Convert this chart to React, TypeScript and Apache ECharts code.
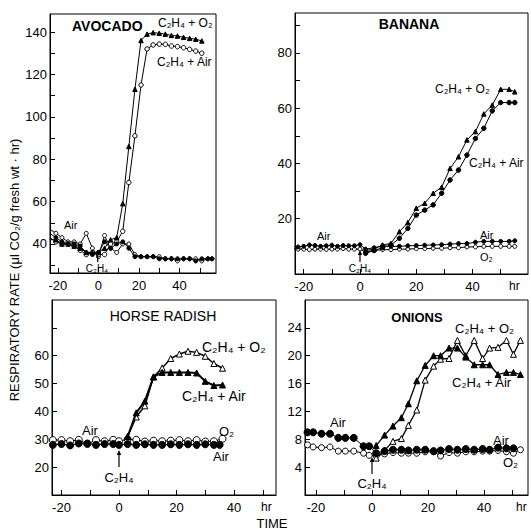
import React, { useEffect, useRef } from "react";
import * as echarts from "echarts";

type Pt = [number, number];

// ---------------- DATA ----------------
// Avocado (hr, µl CO2/g·hr)
const avocadoC2H4O2: Pt[] = [[-24,42],[-21,42],[-18,40],[-15,40],[-12,39],[-9,38],[-6,36],[-3,36],[0,36],[3,38],[6,42],[9,43],[12,59],[15,86],[18,113],[21,136],[24,139],[27,139.7],[30,139.4],[33,139],[36,138.4],[39,138.1],[42,137.5],[45,137],[48,136.6],[51,135.8]];
const avocadoC2H4Air: Pt[] = [[-24,43],[-21,41],[-18,40],[-15,40],[-12,39],[-9,37],[-6,35],[-3,36],[0,35],[3,35],[6,40],[9,41],[12,46],[15,69],[18,91],[21,115],[24,132],[27,133.9],[30,134.3],[33,134.2],[36,133.4],[39,133.1],[42,132.6],[45,131.8],[48,131],[51,130]];
const avocadoAir: Pt[] = [[-24,45],[-21,43],[-18,41],[-15,40],[-12,40],[-9,39],[-6,36],[-3,35],[0,36],[3,41],[6,38],[9,40],[12,41],[15,38],[18,34],[21,34],[24,34],[27,34],[30,33],[33,33],[36,33],[39,33],[42,33],[45,33],[48,32],[51,33],[54,33],[56,33]];
const avocadoO2: Pt[] = [[-24,47],[-21,45],[-18,43],[-15,41],[-12,41],[-9,40],[-6,45],[-3,38],[0,34],[3,44],[6,38],[9,36],[12,40],[15,40],[18,35],[21,34],[24,34],[27,34],[30,34],[33,33],[36,33],[39,32],[42,33],[45,33],[48,33],[51,32],[54,33],[56,33]];

// Banana
const bananaC2H4O2: Pt[] = [[2,8.5],[5,9],[8,10.5],[11,11.1],[14,15.3],[17,18.6],[20,23.8],[23,25.6],[26,29.2],[29,31.4],[32,38.2],[35,42.4],[38,48.5],[41,51.5],[44,57.9],[47,61.1],[50,66.8],[53,66.8],[55,65.9]];
const bananaC2H4Air: Pt[] = [[2,7.5],[5,8.5],[8,9.5],[11,10.5],[14,12.9],[17,16.5],[20,21.3],[23,23.1],[26,25],[29,29.2],[32,34],[35,37.6],[38,43],[41,49],[44,52.7],[47,59],[50,62],[53,62],[55,62]];
const bananaAir: Pt[] = [[-24,10],[-22,9.8],[-20,10],[-18,10.5],[-16,10.3],[-14,10],[-12,10.2],[-10,10.4],[-8,10],[-6,10.3],[-4,10.2],[-2,10.2],[0,10.6],[2,9],[5,9.5],[8,10.2],[11,10],[14,10],[17,10.2],[20,10.3],[23,10.4],[26,10.5],[29,10.6],[32,10.8],[35,11],[38,11],[41,11.5],[44,11.8],[47,11.8],[50,11.8],[53,11.8],[55,12]];
const bananaO2: Pt[] = [[-24,9.2],[-22,9],[-20,9],[-18,8.8],[-16,9],[-14,9],[-12,8.9],[-10,9],[-8,9],[-6,9.2],[-4,9],[-2,9],[0,9],[2,8],[5,8.5],[8,8.8],[11,8.8],[14,9],[17,9],[20,9.2],[23,9.2],[26,9.3],[29,9.3],[32,9.5],[35,9.5],[38,9.8],[41,9.8],[44,10],[47,10],[50,10],[53,10],[55,10]];

// Horse radish
const horseC2H4O2: Pt[] = [[3,31],[6,38],[9,42],[12,52.4],[15,55.6],[18,59],[21,60.6],[24,61.6],[27,61.2],[30,59.8],[33,57.2],[36,55.5]];
const horseC2H4Air: Pt[] = [[3,31],[6,39.5],[9,43.7],[12,52.4],[15,54],[18,54],[21,54],[24,54],[27,53.8],[30,50.8],[33,49.3],[36,49.5]];
const horseO2: Pt[] = [[-23,29.7],[-20,29.7],[-17,29.3],[-14,29.8],[-11,28.3],[-8,29.7],[-5,29.3],[-2,29.8],[0,29.3],[3,30],[6,29.8],[9,29.2],[12,29.5],[15,29.3],[18,29.5],[21,29.7],[24,29.3],[27,29.7],[30,29.2],[33,29.3],[36,30.2]];
const horseAir: Pt[] = [[-23,28],[-20,28.3],[-17,27.8],[-14,28.5],[-11,28.5],[-8,28],[-5,28.3],[-2,28.3],[0,28],[3,28.3],[6,28],[9,28.2],[12,28],[15,28],[18,28.2],[21,28],[24,28.2],[27,28],[30,28.2],[33,28],[35,28]];

// Onions
const onionC2H4O2: Pt[] = [[1.5,5.3],[4.5,6.4],[7.5,7.7],[10.5,8.1],[13,10],[16,12.2],[19,16.5],[22,18.5],[24.5,19.5],[27.5,19.6],[30.5,22.2],[33.5,20],[36.5,22.2],[39.5,19.6],[42,21.1],[45,21.2],[48,22.2],[50.5,20.2],[53,22.2]];
const onionC2H4Air: Pt[] = [[1.5,7.1],[4.5,8.6],[7.5,9.9],[10.5,11.1],[13,13.1],[16,16.4],[19,18.6],[22,20],[24.5,20],[27.5,21.1],[30.5,21.1],[33.5,19.8],[36.5,18.7],[39.5,18.7],[42,18.7],[45,17.3],[48,17.6],[50.5,17.6],[53,17.3]];
const onionAir: Pt[] = [[-23,9],[-21,9],[-18,8.8],[-15,8.8],[-12,8.2],[-9.5,8.2],[-6.5,8.2],[-3,7],[-1,7],[1.5,6],[4.5,6.3],[7.5,6.5],[10.5,6.5],[13,6.4],[16,6.5],[19,6.5],[22,6.3],[24.5,6.4],[27.5,6.6],[30.5,6.5],[33.5,6.6],[36.5,6.5],[39.5,6.6],[42,6.5],[45,6.8],[48,6.7],[50.5,6.7]];
const onionO2: Pt[] = [[-23,7.2],[-21,6.9],[-18,6.8],[-15,6.9],[-12,6.3],[-9.5,6.3],[-6.5,6.3],[-3,6],[-1,5.7],[1.5,5.6],[4.5,5.9],[7.5,6.1],[10.5,6],[13,6],[16,6],[19,6.2],[22,6.2],[24.5,5.6],[27.5,6.1],[30.5,6],[33.5,6.2],[36.5,6.2],[39.5,6.3],[42,6.3],[45,6.4],[48,6.2],[50.5,6],[53,6.5]];

// Tick values
const xTicks = [-20, -10, 0, 10, 20, 30, 40, 50];
const xLabels = [-20, 0, 20, 40];
const avocadoYTicks = [30, 40, 50, 60, 70, 80, 90, 100, 110, 120, 130, 140];
const avocadoYLabels = [40, 60, 80, 100, 120, 140];
const bananaYTicks = [10, 20, 30, 40, 50, 60, 70, 80, 90];
const bananaYLabels = [20, 40, 60, 80];
const horseYTicks = [20, 30, 40, 50, 60, 70];
const horseYLabels = [20, 30, 40, 50, 60];
const onionYTicks = [4, 8, 12, 16, 20, 24];
const onionYLabels = [4, 8, 12, 16, 20, 24];
const xUnits = ["", "hr", "hr", "hr"];

// ---------------- LAYOUT ----------------
const FONT = "'Liberation Sans', Arial, Helvetica, sans-serif";
const panels = [
  { left: 50, top: 14, width: 166, height: 259, xMin: -23.9, xMax: 58, yMin: 26.3, yMax: 148.5, yTicks: avocadoYTicks, yLabels: avocadoYLabels, unitGap: 0 },
  { left: 295, top: 13, width: 233, height: 261, xMin: -23.1, xMax: 59.7, yMin: 0, yMax: 94.4, yTicks: bananaYTicks, yLabels: bananaYLabels, unitGap: -19 },
  { left: 52, top: 300, width: 224, height: 195, xMin: -23.3, xMax: 54.6, yMin: 10, yMax: 80, yTicks: horseYTicks, yLabels: horseYLabels, unitGap: -15 },
  { left: 305, top: 300, width: 223, height: 195, xMin: -23.9, xMax: 55.7, yMin: 0, yMax: 28, yTicks: onionYTicks, yLabels: onionYLabels, unitGap: -12 },
];

function series(data: Pt[], idx: number, symbol: string, filled: boolean, size: number, width = 1) {
  return {
    type: "line",
    xAxisIndex: idx,
    yAxisIndex: idx,
    data,
    symbol,
    symbolSize: size,
    showSymbol: true,
    lineStyle: { color: "#000", width },
    itemStyle: { color: filled ? "#000" : "#fff", borderColor: "#000", borderWidth: 1 },
    z: filled ? 3 : 2,
  };
}

function txt(text: string, x: number, y: number, size = 12, opts: any = {}) {
  return {
    type: "text",
    x,
    y,
    rotation: opts.rotation || 0,
    style: {
      text,
      fontSize: size,
      fontFamily: FONT,
      fill: "#000",
      align: opts.align || "left",
      verticalAlign: "middle",
      fontWeight: opts.weight || "normal",
    },
    z: 10,
  };
}

function arrow(x: number, yTail: number, yHead: number) {
  return [
    { type: "line", shape: { x1: x, y1: yTail, x2: x, y2: yHead + 3 }, style: { stroke: "#000", lineWidth: 1.2 }, z: 10 },
    { type: "polygon", shape: { points: [[x, yHead], [x - 2.2, yHead + 5], [x + 2.2, yHead + 5]] }, style: { fill: "#000" }, z: 10 },
  ];
}

export default function App() {
  const ref = useRef<HTMLDivElement>(null);
  useEffect(() => {
    if (!ref.current) return;
    const chart = echarts.init(ref.current, undefined, { renderer: "svg" });
    const grid = panels.map((p) => ({
      left: p.left, top: p.top, width: p.width, height: p.height,
      show: true, borderColor: "#000", borderWidth: 1, backgroundColor: "transparent",
    }));
    const xAxis = panels.map((p, i) => ({
      type: "value", gridIndex: i, min: p.xMin, max: p.xMax,
      name: xUnits[i],
      nameLocation: "end",
      nameGap: p.unitGap,
      nameMoveOverlap: false,
      nameTextStyle: { fontSize: 12, color: "#000", fontFamily: FONT, align: "left", verticalAlign: "top", padding: [6, 0, 0, 0] },
      axisLine: { show: true, onZero: false, lineStyle: { color: "#000", width: 1 } },
      axisTick: { show: true, inside: true, length: 5, customValues: xTicks, lineStyle: { color: "#000" } },
      axisLabel: { customValues: xLabels, fontSize: 13, color: "#000", fontFamily: FONT, margin: 6 },
      splitLine: { show: false },
    }));
    const yAxis = panels.map((p, i) => ({
      type: "value", gridIndex: i, min: p.yMin, max: p.yMax,
      axisLine: { show: true, onZero: false, lineStyle: { color: "#000", width: 1 } },
      axisTick: { show: true, inside: true, length: 5, customValues: p.yTicks, lineStyle: { color: "#000" } },
      axisLabel: { customValues: p.yLabels, fontSize: 13, color: "#000", fontFamily: FONT, margin: 3 },
      splitLine: { show: false },
    }));
    const seriesList = [
      series(avocadoO2, 0, "circle", false, 4),
      series(avocadoAir, 0, "circle", true, 4),
      series(avocadoC2H4Air, 0, "circle", false, 4.5),
      series(avocadoC2H4O2, 0, "triangle", true, 4.5),
      series(bananaO2, 1, "circle", false, 4),
      series(bananaAir, 1, "circle", true, 4),
      series(bananaC2H4Air, 1, "circle", true, 4.5),
      series(bananaC2H4O2, 1, "triangle", true, 4.5),
      series(horseAir, 2, "circle", true, 7),
      series(horseO2, 2, "circle", false, 7),
      series(horseC2H4Air, 2, "triangle", true, 6, 2),
      series(horseC2H4O2, 2, "triangle", false, 6, 1.5),
      series(onionAir, 3, "circle", true, 7),
      series(onionO2, 3, "circle", false, 6),
      series(onionC2H4Air, 3, "triangle", true, 6, 1.3),
      series(onionC2H4O2, 3, "triangle", false, 6, 1.3),
    ];
    const graphic: any[] = [
      // Avocado
      txt("AVOCADO", 72, 26, 14, { weight: "bold" }),
      txt("C₂H₄ + O₂", 158, 23, 12),
      txt("C₂H₄ + Air", 157, 62, 12),
      txt("Air", 64, 225, 11),
      txt("C₂H₄", 97, 268, 10, { align: "center" }),
      ...arrow(97.7, 262, 250),
      // Banana
      txt("BANANA", 409, 24, 14, { weight: "bold", align: "center" }),
      txt("C₂H₄ + O₂", 435, 89, 12),
      txt("C₂H₄ + Air", 469, 163, 12),
      txt("Air", 317, 236, 11),
      txt("Air", 480, 235, 11),
      txt("O₂", 480, 257, 11),
      txt("C₂H₄", 360, 268, 10, { align: "center" }),
      ...arrow(360, 262, 250),
      // Horse radish
      txt("HORSE RADISH", 163, 316, 14, { align: "center" }),
      txt("C₂H₄ + O₂", 202, 347, 14),
      txt("C₂H₄ + Air", 182, 396, 14),
      txt("Air", 82, 430, 13),
      txt("O₂", 219, 431, 13),
      txt("Air", 213, 456, 13),
      txt("C₂H₄", 119, 477, 13, { align: "center" }),
      ...arrow(119, 467, 450),
      // Onions
      txt("ONIONS", 417, 317, 13, { weight: "bold", align: "center" }),
      txt("C₂H₄ + O₂", 455, 328, 13),
      txt("C₂H₄ + Air", 452, 382, 13),
      txt("Air", 330, 422, 13),
      txt("Air", 493, 440, 13),
      txt("O₂", 503, 462, 13),
      txt("C₂H₄", 372, 483, 13, { align: "center" }),
      ...arrow(372, 474, 457),
      // Global titles
      txt("RESPIRATORY RATE (μl CO₂/g fresh wt · hr)", 14, 270, 13, { align: "center", rotation: Math.PI / 2 }),
      txt("TIME", 272, 523, 13, { align: "center" }),
    ];
    chart.setOption({
      animation: false,
      backgroundColor: "#fff",
      textStyle: { fontFamily: FONT },
      grid,
      xAxis,
      yAxis,
      series: seriesList,
      graphic,
    });
    return () => chart.dispose();
  }, []);
  return <div ref={ref} style={{ position: "fixed", left: 0, top: 0, width: 531, height: 529 }} />;
}
